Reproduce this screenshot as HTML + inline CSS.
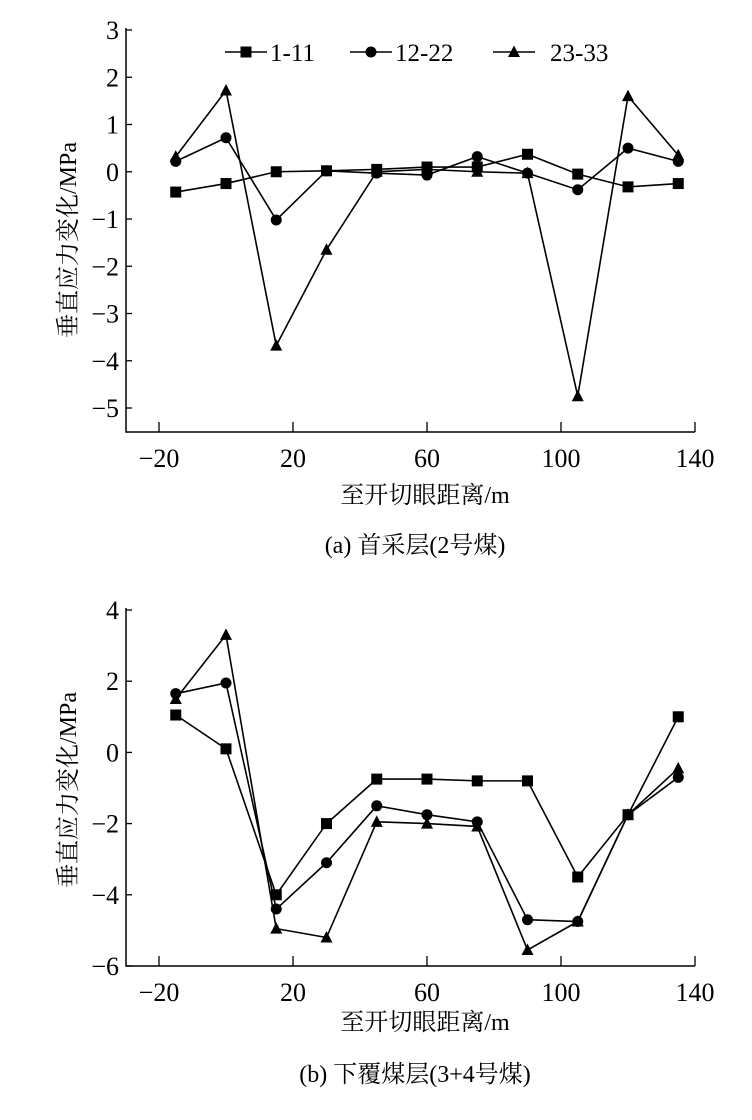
<!DOCTYPE html>
<html><head><meta charset="utf-8">
<style>
html,body{margin:0;padding:0;background:#fff;}
svg{display:block;}
text{font-family:"Liberation Serif","Noto Serif CJK SC",serif;fill:#000;}
</style></head>
<body>
<svg id="svg" width="752" height="1120" xmlns="http://www.w3.org/2000/svg"></svg>
<script>
const xCats = [-15,0,15,30,45,60,75,90,105,120,135];
const xTicks = [-20,20,60,100,140];
const seriesNames = ["1-11","12-22","23-33"];
const aS1 = [-0.43,-0.25,0.0,0.02,0.05,0.1,0.1,0.37,-0.05,-0.32,-0.25];
const aS2 = [0.22,0.72,-1.02,0.02,-0.03,-0.07,0.32,-0.03,-0.38,0.5,0.22];
const aS3 = [0.32,1.72,-3.68,-1.65,0.0,0.05,0.0,-0.03,-4.75,1.6,0.35];
const aYTicks = [3,2,1,0,-1,-2,-3,-4,-5];
const bS1 = [1.05,0.1,-4.0,-2.0,-0.75,-0.75,-0.8,-0.8,-3.5,-1.75,1.0];
const bS2 = [1.65,1.95,-4.4,-3.1,-1.5,-1.75,-1.95,-4.7,-4.75,-1.75,-0.7];
const bS3 = [1.5,3.3,-4.95,-5.2,-1.95,-2.0,-2.08,-5.55,-4.75,-1.75,-0.45];
const bYTicks = [4,2,0,-2,-4,-6];

const NS="http://www.w3.org/2000/svg";
const svg=document.getElementById('svg');
function mk(tag,attrs,parent){const e=document.createElementNS(NS,tag);for(const k in attrs)e.setAttribute(k,attrs[k]);(parent||svg).appendChild(e);return e;}
const xS = v => 226 + (v)*3.35;

function marker(g,type,x,y){
  let m;
  if(type===0) m=mk('rect',{x:x-5.5,y:y-5.5,width:11,height:11,fill:'#000'},g);
  else if(type===1) m=mk('circle',{cx:x,cy:y,r:5.5,fill:'#000'},g);
  else m=mk('polygon',{points:`${x},${y-6.5} ${x-6},${y+5} ${x+6},${y+5}`,fill:'#000'},g);
  
  
}

function chart(id,series,yTicks,yTop,yTopVal,yPer,yBottom,titleY,xTitleY,capY,caption){
  const g=mk('g',{});
  
  
  const yS=v=>yTop+(yTopVal-v)*yPer;
  const ax=mk('path',{d:`M126 ${yTop-2} V${yBottom} H695`,stroke:'#000','stroke-width':1.5,fill:'none'},g);
  
  
  yTicks.forEach(t=>{
    const y=yS(t);
    mk('line',{x1:126,x2:132,y1:y,y2:y,stroke:'#000','stroke-width':1.3},g);
    const tx=mk('text',{x:119,y:y+9,'font-size':26,'text-anchor':'end'},g);
    tx.textContent=t<0?'\u2212'+(-t):String(t);
    
    
  });
  xTicks.forEach(t=>{
    const x=xS(t);
    mk('line',{x1:x,x2:x,y1:yBottom,y2:yBottom-10,stroke:'#000','stroke-width':1.3},g);
    const tx=mk('text',{x:x,y:yBottom+35,'font-size':26,'text-anchor':'middle'},g);
    tx.textContent=t<0?'\u2212'+(-t):String(t);
    
    
  });
  series.forEach((s,i)=>{
    const sg=mk('g',{},g);
    
    
    const pts=s.map((v,j)=>xS(xCats[j])+','+yS(v)).join(' ');
    mk('polyline',{points:pts,fill:'none',stroke:'#000','stroke-width':1.6},sg);
    s.forEach((v,j)=>marker(sg,i,xS(xCats[j]),yS(v)));
  });
  const yt=mk('text',{x:0,y:0,'font-size':24,'text-anchor':'middle',transform:`translate(76 ${titleY}) rotate(-90)`},g);
  yt.textContent='垂直应力变化/MPa';
  
  
  const xt=mk('text',{x:425,y:xTitleY,'font-size':24,'text-anchor':'middle'},g);
  xt.textContent='至开切眼距离/m';
  
  
  const ct=mk('text',{x:415,y:capY,'font-size':24,'text-anchor':'middle'},g);
  ct.textContent=caption;
  
  
  return g;
}

chart('chart-a',[aS1,aS2,aS3],aYTicks,30,3,47.25,432,240,503,553,'(a)  首采层(2号煤)');
chart('chart-b',[bS1,bS2,bS3],bYTicks,610,4,35.6,966,790,1030,1082,'(b)  下覆煤层(3+4号煤)');

const lg=mk('g',{});


[[225,268],[350,393],[493,548]].forEach((p,i)=>{
  const e=mk('g',{},lg);
  
  
  mk('line',{x1:p[0],x2:p[0]+42,y1:52,y2:52,stroke:'#000','stroke-width':1.6},e);
  marker(e,i,p[0]+21,52);
  const t=mk('text',{x:p[1]+2,y:61,'font-size':25},e);
  t.textContent=seriesNames[i];
});
</script>
</body></html>
